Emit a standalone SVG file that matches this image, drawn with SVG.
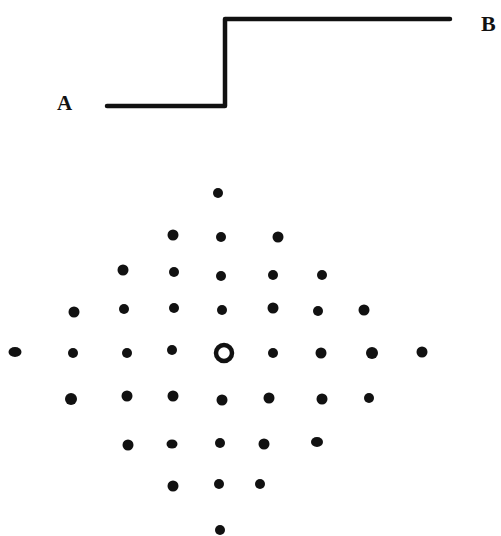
<svg xmlns="http://www.w3.org/2000/svg" width="501" height="536" viewBox="0 0 501 536">
<style>
.lbl{font-family:"Liberation Serif","DejaVu Serif",serif;font-weight:bold;fill:#111}
.dot{fill:#111}
.path{fill:none;stroke:#111;stroke-width:4.5;stroke-linecap:round;stroke-linejoin:round}
</style>
<rect width="501" height="536" fill="#fff"/>
<g id="connectors">
<path class="path" d="M107,106 L225,106 L225,19 L450,19"/>
</g>
<g id="A"><text class="lbl" x="57" y="110" font-size="21">A</text></g>
<g id="B"><text class="lbl" x="481" y="31" font-size="22">B</text></g>
<g id="lattice">
<circle class="dot" cx="218" cy="193" r="5"/>
<circle class="dot" cx="173" cy="235" r="5.5"/>
<circle class="dot" cx="221" cy="237" r="5"/>
<circle class="dot" cx="278" cy="237" r="5.5"/>
<circle class="dot" cx="123" cy="270" r="5.5"/>
<circle class="dot" cx="174" cy="272" r="5"/>
<circle class="dot" cx="221" cy="276" r="5"/>
<circle class="dot" cx="273" cy="275" r="5"/>
<circle class="dot" cx="322" cy="275" r="5"/>
<circle class="dot" cx="74" cy="312" r="5.5"/>
<circle class="dot" cx="124" cy="309" r="5"/>
<circle class="dot" cx="174" cy="308" r="5"/>
<circle class="dot" cx="222" cy="310" r="5"/>
<circle class="dot" cx="273" cy="308" r="5.5"/>
<circle class="dot" cx="318" cy="311" r="5"/>
<circle class="dot" cx="364" cy="310" r="5.5"/>
<ellipse class="dot" cx="15" cy="352" rx="6.5" ry="5"/>
<circle class="dot" cx="73" cy="353" r="5"/>
<circle class="dot" cx="127" cy="353" r="5"/>
<circle class="dot" cx="172" cy="350" r="5"/>
<circle cx="224" cy="353" r="8" fill="none" stroke="#111" stroke-width="4.5"/>
<circle class="dot" cx="273" cy="353" r="5"/>
<circle class="dot" cx="321" cy="353" r="5.5"/>
<circle class="dot" cx="372" cy="353" r="6"/>
<circle class="dot" cx="422" cy="352" r="5.5"/>
<circle class="dot" cx="71" cy="399" r="6"/>
<circle class="dot" cx="127" cy="396" r="5.5"/>
<circle class="dot" cx="173" cy="396" r="5.5"/>
<circle class="dot" cx="222" cy="400" r="5.5"/>
<circle class="dot" cx="269" cy="398" r="5.5"/>
<circle class="dot" cx="322" cy="399" r="5.5"/>
<circle class="dot" cx="369" cy="398" r="5"/>
<circle class="dot" cx="128" cy="445" r="5.5"/>
<ellipse class="dot" cx="172" cy="444" rx="5.5" ry="4.5"/>
<circle class="dot" cx="220" cy="443" r="5"/>
<circle class="dot" cx="264" cy="444" r="5.5"/>
<ellipse class="dot" cx="317" cy="442" rx="6" ry="5"/>
<circle class="dot" cx="173" cy="486" r="5.5"/>
<circle class="dot" cx="219" cy="484" r="5"/>
<circle class="dot" cx="260" cy="484" r="5"/>
<circle class="dot" cx="220" cy="530" r="5"/>
</g>
</svg>
